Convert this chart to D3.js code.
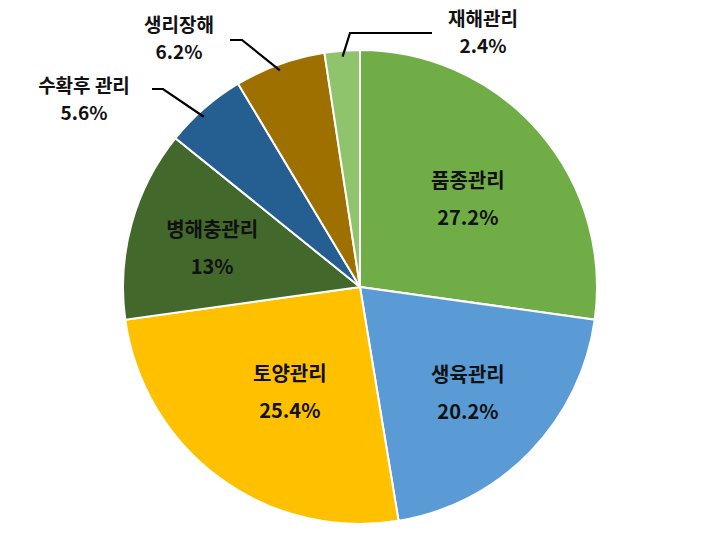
<!DOCTYPE html>
<html><head><meta charset="utf-8">
<script src="https://cdn.jsdelivr.net/npm/d3@7"></script>
<style>body{margin:0;background:#fff}svg{display:block}</style>
</head><body>
<svg id="c" width="720" height="537"></svg>
<script>
const categories = ["품종관리","생육관리","토양관리","병해충관리","수확후 관리","생리장해","재해관리"];
const values = [27.2, 20.2, 25.4, 13, 5.6, 6.2, 2.4];
const valueLabels = ["27.2%","20.2%","25.4%","13%","5.6%","6.2%","2.4%"];
const colors = ["#70AD47","#5B9BD5","#FFC000","#43682B","#255E91","#9E7000","#8FC36C"];

const cx=360,cy=287,R=237;
const svg=d3.select("#c");
const g=svg.append("g").attr("transform",`translate(${cx},${cy})`);
const data=categories.map((c,i)=>({cat:c,v:values[i],lab:valueLabels[i],col:colors[i]}));
const pie=d3.pie().value(d=>d.v).sort(null);
const arcs=pie(data);
const arc=d3.arc().innerRadius(0).outerRadius(R);
g.selectAll("path").data(arcs).enter().append("path")
  .attr("d",arc).attr("fill",d=>d.data.col).attr("stroke","#fff").attr("stroke-width",2);

const font='"Noto Sans CJK KR","Noto Sans",sans-serif';
// inside labels: index -> [radius fraction, angle shift in degrees]
const inside={0:[0.59,1.5],1:[0.636,0],2:[0.53,-2.4],3:[0.646,-0.4]};
arcs.forEach((a,i)=>{
  const cfg=inside[i]; if(!cfg) return;
  const m=(a.startAngle+a.endAngle)/2+cfg[1]*Math.PI/180, r=R*cfg[0];
  const x=Math.sin(m)*r, y=-Math.cos(m)*r;
  const t=g.append("text").attr("text-anchor","middle").attr("font-family",font)
    .attr("font-weight","bold").attr("font-size",20).attr("fill","#111");
  t.append("tspan").attr("x",x).attr("y",y-10).text(a.data.cat);
  t.append("tspan").attr("x",x).attr("y",y+27).text(a.data.lab);
});
// outside labels with leader lines
const outside={
  4:{elbow:[163,89],end:[152,89],tx:84,ty:93,gap:27,shift:-1.5},
  5:{elbow:[242,40],end:[230,40],tx:179,ty:32,gap:27,shift:-0.5},
  6:{elbow:[350,33],end:[432,33],tx:483,ty:25.5,gap:27,shift:0}
};
arcs.forEach((a,i)=>{
  const o=outside[i]; if(!o) return;
  const m=(a.startAngle+a.endAngle)/2+o.shift*Math.PI/180, r=R*0.975;
  const p=[cx+Math.sin(m)*r, cy-Math.cos(m)*r];
  svg.append("path").attr("d",d3.line()([p,o.elbow,o.end]))
    .attr("fill","none").attr("stroke","#000").attr("stroke-width",2.2);
  const t=svg.append("text").attr("text-anchor","middle").attr("font-family",font)
    .attr("font-weight","bold").attr("font-size",19).attr("fill","#111");
  t.append("tspan").attr("x",o.tx).attr("y",o.ty).text(a.data.cat);
  t.append("tspan").attr("x",o.tx).attr("y",o.ty+o.gap).text(a.data.lab);
});
</script>
</body></html>
